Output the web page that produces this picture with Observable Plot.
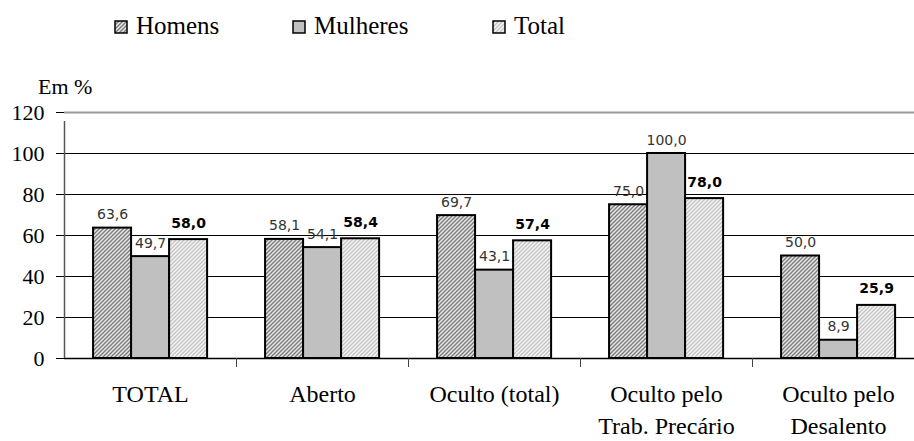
<!DOCTYPE html>
<html>
<head>
<meta charset="utf-8">
<script src="https://cdn.jsdelivr.net/npm/d3@7"></script>
<script src="https://cdn.jsdelivr.net/npm/@observablehq/plot@0.6"></script>
<style>
  html, body { margin: 0; padding: 0; background: white; overflow: hidden; }
  #chart { width: 914px; height: 441px; overflow: hidden; }
  #chart svg { display: block; }
</style>
</head>
<body>
<div id="chart"></div>
<script>
// ---- data ----
const categories = ["TOTAL", "Aberto", "Oculto (total)", "Oculto pelo\nTrab. Precário", "Oculto pelo\nDesalento"];
const seriesNames = ["Homens", "Mulheres", "Total"];
const homens   = [63.6, 58.1, 69.7, 75.0, 50.0];
const mulheres = [49.7, 54.1, 43.1, 100.0, 8.9];
const total    = [58.0, 58.4, 57.4, 78.0, 25.9];
const yTicks = [0, 20, 40, 60, 80, 100, 120];
const yLabel = "Em %";

// ---- build table ----
const seriesValues = [homens, mulheres, total];
const rows = [];
categories.forEach((c, ci) => {
  seriesNames.forEach((s, si) => {
    rows.push({category: c, ci, series: s, si, value: seriesValues[si][ci]});
  });
});

const groupStart = 0.169, barW = 0.221;
const bx1 = d => d.ci + groupStart + d.si * barW;
const bx2 = d => d.ci + groupStart + (d.si + 1) * barW;
const bxc = d => d.ci + groupStart + (d.si + 0.5) * barW;
const fmt = v => v.toFixed(1).replace(".", ",");

const SERIF = "Liberation Serif";
const fills = ["url(#pHom)", "#c0c0c0", "url(#pTot)"];

const chart = document.getElementById("chart");

// ---- header (legend + unit label) ----
const header = d3.create("svg").attr("width", 914).attr("height", 96).style("overflow", "visible");
const defs = header.append("defs");
const pH = defs.append("pattern").attr("id", "pHom").attr("patternUnits", "userSpaceOnUse")
  .attr("width", 4).attr("height", 4);
pH.append("rect").attr("width", 4).attr("height", 4).attr("fill", "#e6e6e6");
pH.append("path").attr("d", "M-1,1 l2,-2 M0,4 l4,-4 M3,5 l2,-2")
  .attr("stroke", "#7a7a7a").attr("stroke-width", 1.3);
const pT = defs.append("pattern").attr("id", "pTot").attr("patternUnits", "userSpaceOnUse")
  .attr("width", 4).attr("height", 4);
pT.append("rect").attr("width", 4).attr("height", 4).attr("fill", "#f4f4f4");
pT.append("path").attr("d", "M-1,1 l2,-2 M0,4 l4,-4 M3,5 l2,-2")
  .attr("stroke", "#c4c4c4").attr("stroke-width", 1.3);

const legendX = [115, 293, 493];
seriesNames.forEach((s, i) => {
  header.append("rect").attr("x", legendX[i]).attr("y", 21).attr("width", 12).attr("height", 12)
    .attr("fill", fills[i]).attr("stroke", "black").attr("stroke-width", 1.5);
  header.append("text").attr("x", legendX[i] + 21).attr("y", 34)
    .attr("font-family", SERIF).attr("font-size", 25).attr("fill", "black").text(s);
});
header.append("text").attr("x", 38).attr("y", 94)
  .attr("font-family", SERIF).attr("font-size", 22).attr("fill", "black").text(yLabel);
chart.appendChild(header.node());

// ---- plot ----
const plot = Plot.plot({
  width: 914,
  height: 345,
  marginTop: 16,
  marginBottom: 83,
  marginLeft: 64,
  marginRight: 0,
  x: {type: "linear", domain: [0, categories.length], range: [64, 924], axis: null},
  y: {domain: [0, 120], range: [262, 16], axis: null},
  color: {domain: seriesNames, range: fills},
  style: {background: "white", overflow: "visible", color: "black"},
  marks: [
    Plot.ruleY(yTicks.filter(v => v > 0 && v < 120), {stroke: "black", strokeWidth: 1}),
    Plot.ruleY([120], {stroke: "#9a9a9a", strokeWidth: 2}),
    Plot.rectY(rows, {x1: bx1, x2: bx2, y1: 0, y2: "value", fill: "series", stroke: "black", strokeWidth: 2}),
    Plot.ruleY([0], {stroke: "black", strokeWidth: 1.5}),
    Plot.ruleX([0], {y1: 0, y2: 120, insetBottom: -9, stroke: "#555", strokeWidth: 1.5}),
    Plot.axisY({ticks: yTicks, tickSize: 8, tickPadding: 12, fontSize: 22, fontFamily: SERIF,
      label: null, stroke: "black", fill: "black"}),
    Plot.axisX({ticks: [1, 2, 3, 4], tickSize: 9, tickFormat: () => "", label: null, stroke: "#444"}),
    Plot.text(categories, {x: (d, i) => i + 0.5, y: () => 0, text: d => d, dy: 21, lineAnchor: "top",
      lineHeight: 1.33, fontSize: 24, fontFamily: SERIF, fill: "black"}),
    Plot.text(rows.filter(d => d.series !== "Total"), {x: bxc, y: "value", text: d => fmt(d.value),
      dy: -9, lineAnchor: "bottom", fontSize: 14, fontFamily: "DejaVu Sans", fill: "#333"}),
    Plot.text(rows.filter(d => d.series === "Total"), {x: bxc, y: "value", text: d => fmt(d.value),
      dy: -12, lineAnchor: "bottom", fontSize: 14, fontFamily: "DejaVu Sans", fontWeight: "bold", fill: "black"})
  ]
});
chart.appendChild(plot);
</script>
</body>
</html>
